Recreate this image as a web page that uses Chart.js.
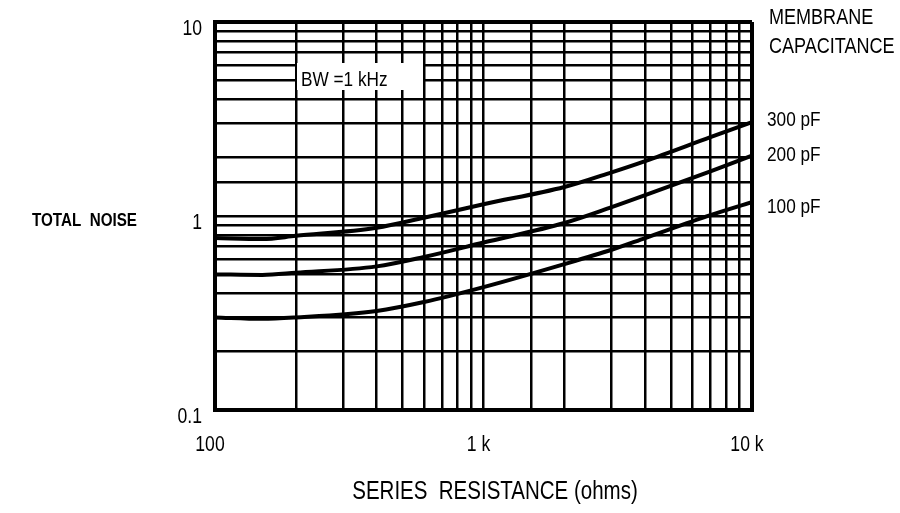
<!DOCTYPE html>
<html>
<head>
<meta charset="utf-8">
<script src="https://cdn.jsdelivr.net/npm/chart.js@4.4.1/dist/chart.umd.min.js"></script>
<style>
  html, body { margin: 0; padding: 0; background: #fff; }
  #wrap { width: 900px; height: 513px; }
</style>
</head>
<body>
<div id="wrap"><canvas id="noiseChart" width="900" height="513"></canvas></div>
<script>
// series resistance (ohms) and total noise
const resistance = [100, 150, 200, 400, 600, 1000, 2000, 3000, 4000, 7000, 10000];
const noise300pF = [0.77, 0.76, 0.79, 0.87, 0.98, 1.15, 1.41, 1.68, 1.92, 2.55, 3.05];
const noise200pF = [0.50, 0.497, 0.51, 0.55, 0.615, 0.73, 0.92, 1.11, 1.28, 1.70, 2.05];
const noise100pF = [0.30, 0.295, 0.30, 0.324, 0.36, 0.43, 0.565, 0.67, 0.77, 1.01, 1.18];
const seriesLabels = ['300 pF', '200 pF', '100 pF'];
const xTicks = [100, 1000, 10000];
const xTickLabels = ['100', '1 k', '10 k'];
const yTicks = [0.1, 1, 10];
const yTickLabels = ['0.1', '1', '10'];

const FONT = "'Liberation Sans', Arial, sans-serif";

function toPoints(ys) {
    return resistance.map((r, i) => ({ x: r, y: ys[i] }));
}

// the original lettering is a condensed sans, so squeeze it sideways
function squeezed(ctx, text, x, y, font, align, sx) {
    ctx.save();
    ctx.font = font;
    ctx.textAlign = align;
    ctx.textBaseline = 'middle';
    ctx.translate(x, y);
    ctx.scale(sx, 1);
    ctx.fillText(text, 0, 0);
    ctx.restore();
}

const annotations = {
    id: 'annotations',
    afterDraw(chart) {
        const ctx = chart.ctx;
        const area = chart.chartArea;
        const xs = chart.scales.x;
        const ys = chart.scales.y;
        ctx.save();
        ctx.fillStyle = '#000';

        // tick labels
        xTicks.forEach((v, i) => {
            squeezed(ctx, xTickLabels[i], xs.getPixelForValue(v) - 5, area.bottom + 35, '22px ' + FONT, 'center', 0.8);
        });
        yTicks.forEach((v, i) => {
            squeezed(ctx, yTickLabels[i], area.left - 13, ys.getPixelForValue(v) + 7, '22px ' + FONT, 'right', 0.8);
        });

        // axis titles
        squeezed(ctx, 'SERIES  RESISTANCE (ohms)', area.left + 280, 492, '25px ' + FONT, 'center', 0.82);
        squeezed(ctx, 'TOTAL  NOISE', 32, 221, 'bold 19px ' + FONT, 'left', 0.8);

        // bandwidth note, blanked out of the grid
        ctx.fillStyle = '#fff';
        ctx.fillRect(area.left + 82, area.top + 41, 126, 27);
        ctx.fillStyle = '#000';
        squeezed(ctx, 'BW =1 kHz', area.left + 86, area.top + 58, '21px ' + FONT, 'left', 0.82);

        // legend heading and line labels
        squeezed(ctx, 'MEMBRANE', area.right + 17, 18, '22px ' + FONT, 'left', 0.82);
        squeezed(ctx, 'CAPACITANCE', area.right + 17, 47, '22px ' + FONT, 'left', 0.82);
        const dy = [-2, 0, 5];
        chart.data.datasets.forEach((ds, i) => {
            const last = ds.data[ds.data.length - 1];
            squeezed(ctx, seriesLabels[i], area.right + 15, ys.getPixelForValue(last.y) + dy[i], '21px ' + FONT, 'left', 0.82);
        });
        ctx.restore();
    }
};

const edgeWidth = (ctx, lo, hi) => {
    const v = ctx.tick && ctx.tick.value;
    if (v === undefined) return 2.5;
    return (Math.abs(v - lo) < 1e-9 || Math.abs(v - hi) < 1e-9) ? 4 : 2.5;
};

const lineStyle = {
    borderColor: '#000',
    borderWidth: 4,
    pointRadius: 0,
    cubicInterpolationMode: 'monotone',
    fill: false
};

new Chart(document.getElementById('noiseChart'), {
    type: 'line',
    data: {
        datasets: [
            { label: seriesLabels[0], data: toPoints(noise300pF), ...lineStyle },
            { label: seriesLabels[1], data: toPoints(noise200pF), ...lineStyle },
            { label: seriesLabels[2], data: toPoints(noise100pF), ...lineStyle }
        ]
    },
    options: {
        responsive: false,
        animation: false,
        layout: { padding: { top: 22, right: 148, left: 0, bottom: 0 } },
        plugins: { legend: { display: false }, tooltip: { enabled: false } },
        scales: {
            x: {
                type: 'logarithmic',
                min: 100,
                max: 10000,
                grid: { color: '#000', lineWidth: ctx => edgeWidth(ctx, 100, 10000), drawTicks: false },
                border: { color: '#000', width: 4 },
                ticks: { display: false, autoSkip: false },
                afterFit: s => { s.height = 103; }
            },
            y: {
                type: 'logarithmic',
                min: 0.1,
                max: 10,
                grid: { color: '#000', lineWidth: ctx => edgeWidth(ctx, 0.1, 10), drawTicks: false },
                border: { color: '#000', width: 4 },
                ticks: { display: false, autoSkip: false },
                afterFit: s => { s.width = 215; }
            }
        }
    },
    plugins: [annotations]
});
</script>
</body>
</html>
